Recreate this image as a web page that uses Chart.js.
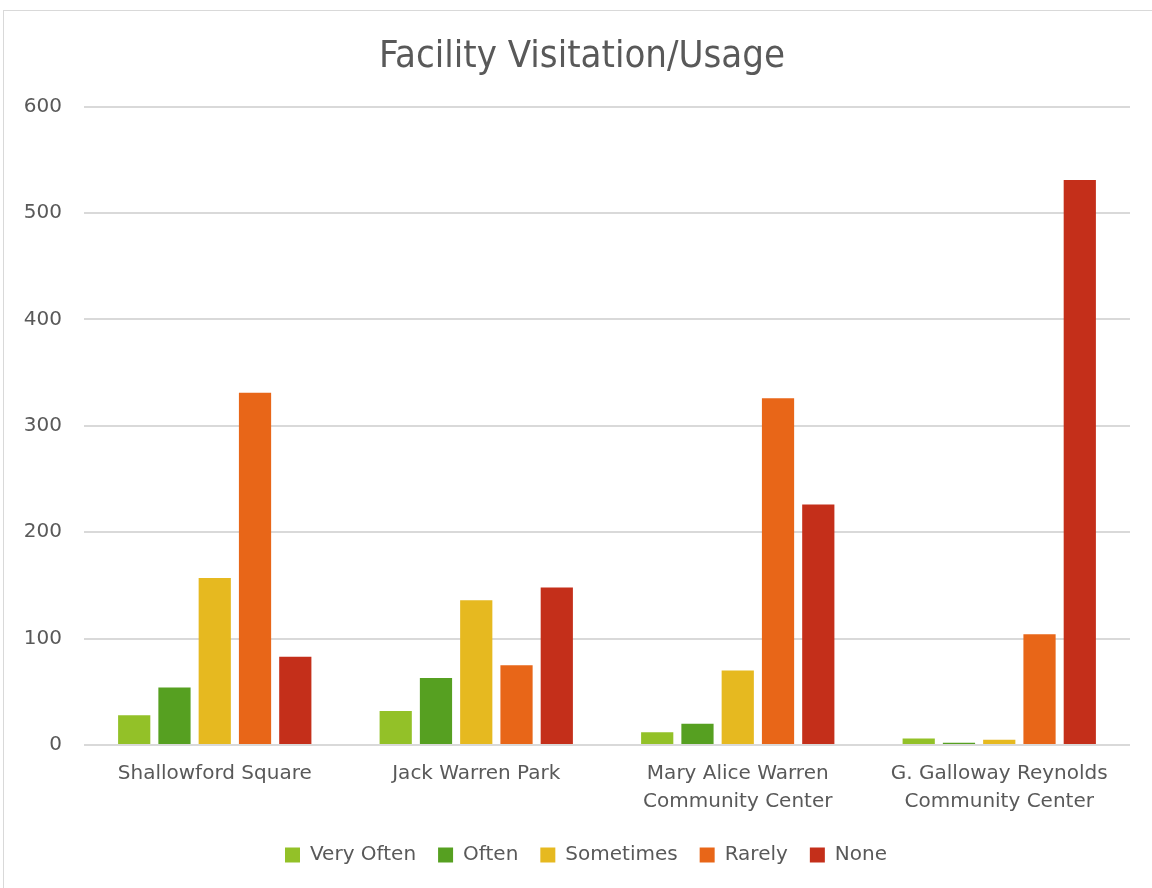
<!DOCTYPE html>
<html>
<head>
<meta charset="utf-8">
<script src="https://cdn.jsdelivr.net/npm/chart.js@4"></script>
<style>
  html, body { margin: 0; padding: 0; background: #fff; }
  #frame { position: absolute; left: 3px; top: 10px; width: 1160px; height: 890px; border: 1px solid #d9d9d9; box-sizing: border-box; }
  #wrap { position: absolute; left: 0; top: 0; width: 1152px; height: 888px; }
</style>
</head>
<body>
<div id="frame"></div>
<div id="wrap"><canvas id="c" width="1152" height="888"></canvas></div>
<script>
const categories = [
  "Shallowford Square",
  "Jack Warren Park",
  ["Mary Alice Warren", "Community Center"],
  ["G. Galloway Reynolds", "Community Center"]
];
const seriesNames = ["Very Often", "Often", "Sometimes", "Rarely", "None"];
const veryOften = [28, 32, 12, 6];
const often = [54, 63, 20, 2];
const sometimes = [157, 136, 70, 5];
const rarely = [331, 75, 326, 104];
const none = [83, 148, 226, 531];
const colors = ["#93c128", "#56a021", "#e6b920", "#e86618", "#c42f1a"];
const yTicks = [0, 100, 200, 300, 400, 500, 600];

const values = [veryOften, often, sometimes, rarely, none];
const titleFont = "'DejaVu Sans Condensed', 'DejaVu Sans', sans-serif";
const fontFam = "'DejaVu Sans', sans-serif";
const textColor = "#595959";

const shiftBoxes = {
  id: "shiftBoxes",
  afterLayout(chart) {
    if (chart.titleBlock) chart.titleBlock.left += 32;
    if (chart.legend) chart.legend.left += 40;
  }
};

new Chart(document.getElementById("c"), {
  type: "bar",
  data: {
    labels: categories,
    datasets: seriesNames.map((n, i) => ({
      label: n,
      data: values[i],
      backgroundColor: colors[i],
      borderWidth: 0,
      categoryPercentage: 0.77,
      barPercentage: 0.8
    }))
  },
  plugins: [shiftBoxes],
  options: {
    responsive: false,
    animation: false,
    devicePixelRatio: 1,
    layout: { padding: { left: 2, right: 22, top: 24, bottom: 13 } },
    plugins: {
      title: {
        display: true,
        text: "Facility Visitation/Usage",
        color: textColor,
        font: { family: titleFont, size: 38, weight: "normal" },
        padding: { top: 10, bottom: 27 }
      },
      legend: {
        position: "bottom",
        labels: {
          color: textColor,
          font: { family: fontFam, size: 20 },
          boxWidth: 15,
          boxHeight: 15,
          padding: 22
        }
      },
      tooltip: { enabled: false }
    },
    scales: {
      y: {
        min: 0,
        max: 600,
        afterBuildTicks: (axis) => { axis.ticks = yTicks.map(v => ({ value: v })); },
        afterFit: (axis) => { axis.width = 82; },
        ticks: {
          color: textColor,
          font: { family: fontFam, size: 20 },
          padding: 22
        },
        grid: { color: "#d9d9d9", lineWidth: 2, drawTicks: false },
        border: { display: false }
      },
      x: {
        ticks: {
          color: textColor,
          font: { family: fontFam, size: 20, lineHeight: 1.4 },
          padding: 7,
          maxRotation: 0
        },
        grid: { display: false },
        border: { display: false }
      }
    }
  }
});
</script>
</body>
</html>
